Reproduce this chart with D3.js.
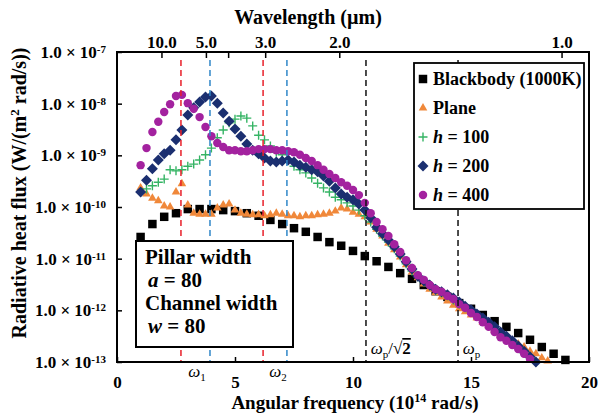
<!DOCTYPE html>
<html>
<head>
<meta charset="utf-8">
<script src="https://cdn.jsdelivr.net/npm/d3@7"></script>
<style>
  body { margin: 0; background: #fff; }
  svg { font-family: "Liberation Serif", "Times New Roman", serif; font-weight: bold; }
</style>
</head>
<body>
<svg width="600" height="414"></svg>
<script>
// angular frequency, 10^14 rad/s
const omegaBlackbody = [1, 1.5, 2, 2.5, 3, 3.5, 4, 4.5, 5, 5.5, 6, 6.5, 7, 7.5, 8, 8.5, 9, 9.5, 10, 10.5,
  11, 11.5, 12, 12.5, 13, 13.5, 14, 14.5, 15, 15.5, 16, 16.5, 17, 17.5, 18, 18.5, 19];
const omegaFine = [1, 1.25, 1.5, 1.75, 2, 2.25, 2.5, 2.75, 3, 3.25, 3.5, 3.75, 4, 4.25, 4.5, 4.75,
  5, 5.25, 5.5, 5.75, 6, 6.25, 6.5, 6.75, 7, 7.25, 7.5, 7.75, 8, 8.25, 8.5, 8.75, 9, 9.25, 9.5, 9.75,
  10, 10.25, 10.5, 10.75, 11, 11.25, 11.5, 11.75, 12, 12.25, 12.5, 12.75, 13, 13.25, 13.5, 13.75,
  14, 14.25, 14.5, 14.75, 15, 15.25, 15.5, 15.75, 16, 16.25, 16.5, 16.75, 17, 17.25, 17.5, 17.75, 18, 18.25];

// log10 of radiative heat flux, W/(m^2 rad/s)
const logBlackbody = [-10.58, -10.33, -10.19, -10.12, -10.04, -10.04, -10.04, -10.06, -10.08, -10.12,
  -10.17, -10.25, -10.33, -10.41, -10.48, -10.58, -10.68, -10.75, -10.85, -10.95,
  -11.05, -11.16, -11.28, -11.39, -11.51, -11.63, -11.74, -11.86, -11.97, -12.09,
  -12.21, -12.32, -12.44, -12.57, -12.71, -12.84, -12.96];
const logPlane = [-9.63, -9.75, -9.83, -9.88, -9.98, -10.00, -9.71, -9.55, -9.96, -10.12,
  -10.14, -10.14, -10.14, -10.02, -9.96, -9.94, -10.06, -10.12, -10.14, -10.15,
  -10.15, -10.17, -10.15, -10.12, -10.14, -10.17, -10.17, -10.19, -10.17, -10.17,
  -10.15, -10.14, -10.12, -10.08, -10.02, -10.04, -10.10, -10.14, -10.19, -10.29,
  -10.43, -10.56, -10.70, -10.83, -10.97, -11.12, -11.26, -11.37, -11.49, -11.59,
  -11.66, -11.74, -11.82, -11.90, -11.97, -12.03, -12.09, -12.15, -12.23, -12.30,
  -12.38, -12.46, -12.52, -12.59, -12.65, -12.71, -12.79, -12.84, -12.92, -12.98];
const logH100 = [-9.71, -9.65, -9.59, -9.52, -9.46, -9.28, -9.30, -9.28, -9.21, -9.17,
  -9.09, -8.99, -8.86, -8.66, -8.51, -8.37, -8.30, -8.24, -8.28, -8.43,
  -8.61, -8.70, -8.82, -8.94, -8.99, -9.09, -9.21, -9.28, -9.34, -9.44,
  -9.54, -9.63, -9.71, -9.81, -9.86, -9.92, -9.98, -10.06, -10.17, -10.29,
  -10.43, -10.56, -10.68, -10.81, -10.95, -11.10, -11.24, -11.35, -11.45, -11.53,
  -11.61, -11.66, -11.72, -11.80, -11.88, -11.95, -12.03, -12.11, -12.19, -12.28,
  -12.36, -12.46, -12.54, -12.63, -12.73, -12.83, -12.92, -13.00];
const logH200 = [-9.71, -9.48, -9.26, -9.09, -8.97, -8.90, -8.70, -8.51, -8.22, -8.08,
  -7.97, -7.87, -7.85, -7.99, -8.18, -8.34, -8.49, -8.63, -8.78, -8.90,
  -8.97, -9.05, -9.11, -9.13, -9.11, -9.09, -9.13, -9.19, -9.23, -9.28,
  -9.32, -9.40, -9.50, -9.63, -9.75, -9.81, -9.86, -9.94, -10.06, -10.21,
  -10.39, -10.52, -10.64, -10.77, -10.91, -11.06, -11.20, -11.34, -11.43, -11.51,
  -11.59, -11.64, -11.70, -11.76, -11.84, -11.92, -11.99, -12.07, -12.15, -12.23,
  -12.32, -12.42, -12.50, -12.59, -12.69, -12.79, -12.90, -13.00];
const logH400 = [-9.19, -8.86, -8.55, -8.35, -8.16, -8.01, -7.85, -7.83, -7.99, -8.10,
  -8.26, -8.45, -8.63, -8.76, -8.84, -8.90, -8.90, -8.92, -8.92, -8.90,
  -8.88, -8.88, -8.88, -8.90, -8.90, -8.92, -8.94, -8.99, -9.05, -9.11,
  -9.19, -9.28, -9.36, -9.44, -9.52, -9.59, -9.67, -9.77, -9.92, -10.12,
  -10.29, -10.43, -10.56, -10.72, -10.87, -11.03, -11.18, -11.32, -11.41, -11.51,
  -11.59, -11.64, -11.72, -11.78, -11.88, -11.95, -12.05, -12.13, -12.23, -12.32,
  -12.42, -12.52, -12.59, -12.67, -12.75, -12.84, -12.94];

const seriesNames = ["Blackbody (1000K)", "Plane", "h = 100", "h = 200", "h = 400"];
const freqTicks = [0, 5, 10, 15, 20];
const fluxTicks = [1e-7, 1e-8, 1e-9, 1e-10, 1e-11, 1e-12, 1e-13];
const lambdaTicks = [10, 5, 4, 3, 2, 1];          // µm
const lambdaLabels = ["10.0", "5.0", "", "3.0", "2.0", "1.0"];
// omega1, omega2 (red/blue pairs) and omega_p/sqrt2, omega_p
const modeOmegas = [2.71, 3.94, 6.19, 7.2, 10.55, 14.45];
const modeColors = ["#e8202a", "#2f86c8", "#e8202a", "#2f86c8", "#111", "#111"];

const svg = d3.select("svg");
const plotL = 117, plotR = 589, plotT = 52, plotB = 362;

const x = d3.scaleLinear().domain([0, 20]).range([plotL, plotR]);
const y = d3.scaleLog().domain([1e-13, 1e-7]).range([plotB, plotT]);
const omegaOfLambda = l => 2 * Math.PI * 2.998 / l; // 10^14 rad/s for l in µm

// markers
const square = d3.symbol(d3.symbolSquare, 72)();
const triangle = d3.symbol(d3.symbolTriangle, 32)();
const circle = d3.symbol(d3.symbolCircle, 56)();
const diamond = "M0,-5.5L5.5,0L0,5.5L-5.5,0Z";
const plus = "M-4.5,0H4.5M0,-4.5V4.5";

const series = [
  { omega: omegaBlackbody, vals: logBlackbody, path: square, fill: "#000", stroke: "none" },
  { omega: omegaFine, vals: logPlane, path: triangle, fill: "#f0883a", stroke: "none" },
  { omega: omegaFine, vals: logH100, path: plus, fill: "none", stroke: "#35b464" },
  { omega: omegaFine, vals: logH200, path: diamond, fill: "#1b2f70", stroke: "none" },
  { omega: omegaFine, vals: logH400, path: circle, fill: "#a3229f", stroke: "none" }
];

series.forEach(s => {
  svg.append("g").selectAll("path")
    .data(s.vals)
    .join("path")
    .attr("transform", (d, i) => `translate(${x(s.omega[i])},${y(Math.pow(10, d))})`)
    .attr("d", s.path)
    .attr("fill", s.fill)
    .attr("stroke", s.stroke)
    .attr("stroke-width", 1.4);
});

// dashed mode lines, on top of markers
svg.append("g").selectAll("line")
  .data(modeOmegas)
  .join("line")
  .attr("x1", d => x(d)).attr("x2", d => x(d))
  .attr("y1", plotT + 8).attr("y2", plotB)
  .attr("stroke", (d, i) => modeColors[i])
  .attr("stroke-width", 1.5)
  .attr("stroke-dasharray", "6,4");

// axes
const xAxis = svg.append("g")
  .attr("transform", `translate(0,${plotB})`)
  .call(d3.axisBottom(x).tickValues(freqTicks).tickSize(-5).tickPadding(14).tickFormat(d3.format("d")));
const yAxis = svg.append("g")
  .attr("transform", `translate(${plotL},0)`)
  .call(d3.axisLeft(y).tickValues(fluxTicks).tickSize(-5).tickPadding(11).tickFormat(""));
const topAxis = svg.append("g")
  .attr("transform", `translate(0,${plotT})`)
  .call(d3.axisTop(x).tickValues(lambdaTicks.map(omegaOfLambda)).tickSize(-6).tickPadding(4)
    .tickFormat((d, i) => lambdaLabels[i]));

[xAxis, yAxis, topAxis].forEach(g => {
  g.select(".domain").remove();
  g.selectAll(".tick line").attr("stroke", "#000").attr("stroke-width", 1.5);
  g.selectAll("text").attr("fill", "#000");
  g.attr("font-family", null).attr("font-size", null);
});
xAxis.selectAll("text").attr("font-size", 17);
topAxis.selectAll("text").attr("font-size", 17);

yAxis.selectAll(".tick text")
  .attr("font-size", 17)
  .each(function (d) {
    const t = d3.select(this);
    t.append("tspan").text("1.0 × 10");
    t.append("tspan").attr("dy", "-0.45em").attr("font-size", 11).text(String(Math.round(Math.log10(d))));
  });

// frame
svg.append("rect")
  .attr("x", plotL).attr("y", plotT)
  .attr("width", plotR - plotL).attr("height", plotB - plotT)
  .attr("fill", "none").attr("stroke", "#000").attr("stroke-width", 2);

// mode labels
const modeLab = svg.append("g").attr("font-style", "italic").attr("font-weight", "normal").attr("font-size", 17);
function omegaLabel(g, px, py, sub, tail) {
  const t = g.append("text").attr("x", px).attr("y", py);
  t.append("tspan").text("ω");
  t.append("tspan").attr("dy", 4).attr("font-size", 11).attr("font-style", "normal").text(sub);
  if (tail) {
    t.append("tspan").attr("dy", -4).attr("font-style", "normal").text("/√");
    t.append("tspan").attr("font-style", "normal").attr("font-weight", "bold")
      .attr("text-decoration", "overline").text("2");
  }
  return t;
}
omegaLabel(modeLab, x(3.02), 377, "1");
omegaLabel(modeLab, x(6.45), 377, "2");
omegaLabel(modeLab, x(10.75), 354, "p", true);
omegaLabel(modeLab, x(14.65), 354, "p");

// axis titles
svg.append("text").attr("x", 308).attr("y", 24).attr("text-anchor", "middle")
  .attr("font-size", 20).text("Wavelength (µm)");

const xt = svg.append("text").attr("x", 355).attr("y", 409).attr("text-anchor", "middle").attr("font-size", 19);
xt.append("tspan").text("Angular frequency (10");
xt.append("tspan").attr("dy", -7).attr("font-size", 12).text("14");
xt.append("tspan").attr("dy", 7).text(" rad/s)");

const yt = svg.append("text").attr("transform", "translate(26,193) rotate(-90)")
  .attr("text-anchor", "middle").attr("font-size", 20);
yt.append("tspan").text("Radiative heat flux (W/(m");
yt.append("tspan").attr("dy", -7).attr("font-size", 13).text("2");
yt.append("tspan").attr("dy", 7).text(" rad/s))");

// legend
const lg = svg.append("g");
lg.append("rect").attr("x", 414).attr("y", 63).attr("width", 170).attr("height", 146)
  .attr("fill", "#fff").attr("stroke", "#000").attr("stroke-width", 1.8);
series.forEach((s, i) => {
  const cy = 79 + i * 29;
  lg.append("path").attr("transform", `translate(423,${cy})`)
    .attr("d", s.path).attr("fill", s.fill).attr("stroke", s.stroke).attr("stroke-width", 1.4);
  const t = lg.append("text").attr("x", 433).attr("y", cy + 6).attr("font-size", 18);
  const name = seriesNames[i];
  if (name.startsWith("h")) {
    t.append("tspan").attr("font-style", "italic").text("h");
    t.append("tspan").text(name.slice(1));
  } else {
    t.text(name);
  }
});

// geometry box
const box = svg.append("g");
box.append("rect").attr("x", 136).attr("y", 241).attr("width", 157).attr("height", 106)
  .attr("fill", "#fff").attr("stroke", "#000").attr("stroke-width", 2);
box.append("text").attr("x", 145).attr("y", 264).attr("font-size", 21).text("Pillar width");
const ta = box.append("text").attr("x", 148).attr("y", 287).attr("font-size", 21);
ta.append("tspan").attr("font-style", "italic").text("a");
ta.append("tspan").text(" = 80");
box.append("text").attr("x", 145).attr("y", 310).attr("font-size", 21).text("Channel width");
const tw = box.append("text").attr("x", 148).attr("y", 333).attr("font-size", 21);
tw.append("tspan").attr("font-style", "italic").text("w");
tw.append("tspan").text(" = 80");
</script>
</body>
</html>
